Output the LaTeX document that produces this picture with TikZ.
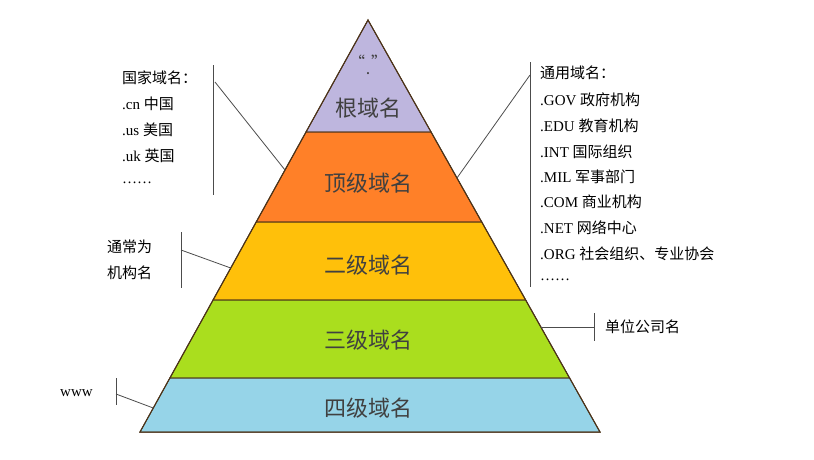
\documentclass[tikz,border=0pt]{standalone}
\usepackage{fontspec}
\setmainfont{Liberation Serif}
\newfontfamily\cjk{Noto Sans CJK SC}
\begin{document}
\begin{tikzpicture}[x=1pt,y=-1pt,
  layer/.style={draw=black!60!brown,line width=1pt},
  big/.style={font=\cjk\fontsize{22}{24}\selectfont,text=black!75},
  small/.style={font=\fontsize{15}{17}\selectfont,anchor=west,inner sep=0pt},
  conn/.style={draw=black!70,line width=0.8pt}]
\useasboundingbox (0,0) rectangle (814,459);
% pyramid geometry: apex (368,20), base (140,432)-(600,432)
\def\lx#1{368-(#1-20)*0.5534}
\def\rx#1{368+(#1-20)*0.5631}
\fill[layer,fill={rgb,255:red,190;green,182;blue,222}] (368,20) -- ({\rx{132}},132) -- ({\lx{132}},132) -- cycle;
\fill[layer,fill={rgb,255:red,255;green,128;blue,40}] ({\lx{132}},132) -- ({\rx{132}},132) -- ({\rx{222}},222) -- ({\lx{222}},222) -- cycle;
\fill[layer,fill={rgb,255:red,255;green,192;blue,10}] ({\lx{222}},222) -- ({\rx{222}},222) -- ({\rx{300}},300) -- ({\lx{300}},300) -- cycle;
\fill[layer,fill={rgb,255:red,170;green,222;blue,30}] ({\lx{300}},300) -- ({\rx{300}},300) -- ({\rx{378}},378) -- ({\lx{378}},378) -- cycle;
\fill[layer,fill={rgb,255:red,150;green,212;blue,232}] ({\lx{378}},378) -- ({\rx{378}},378) -- ({\rx{432}},432) -- ({\lx{432}},432) -- cycle;
\draw[layer] (368,20) -- ({\rx{432}},432) -- ({\lx{432}},432) -- cycle;
\node[big,inner sep=0pt] (q) at (368,62) {\fontsize{16}{16}\selectfont “\hspace{6pt}”};
\node[big,inner sep=0pt] (dot) at (368,74) {\fontsize{16}{16}\selectfont .};
\node[big] (l0) at (368,108) {根域名};
\node[big] (l1) at (368,183) {顶级域名};
\node[big] (l2) at (368,265) {二级域名};
\node[big] (l3) at (368,340) {三级域名};
\node[big] (l4) at (368,408) {四级域名};
% left country block
\node[small] (c0) at (122,78) {\cjk 国家域名：};
\node[small] (c1) at (122,104) {.cn {\cjk 中国}};
\node[small] (c2) at (122,130) {.us {\cjk 美国}};
\node[small] (c3) at (122,156) {.uk {\cjk 英国}};
\node[small] (c4) at (122,183) {……};
\coordinate (cb1) at (213,65); \coordinate (cb2) at (213,195);
\draw[conn] (cb1) -- (cb2);
\coordinate (cs) at (215,82); \coordinate (ce) at ({\lx{170}},170);
\draw[conn] (cs) -- (ce);
% right generic block
\node[small] (g0) at (540,73) {\cjk 通用域名：};
\node[small] (g1) at (540,100) {.GOV {\cjk 政府机构}};
\node[small] (g2) at (540,126) {.EDU {\cjk 教育机构}};
\node[small] (g3) at (540,152) {.INT {\cjk 国际组织}};
\node[small] (g4) at (540,177) {.MIL {\cjk 军事部门}};
\node[small] (g5) at (540,202) {.COM {\cjk 商业机构}};
\node[small] (g6) at (540,228) {.NET {\cjk 网络中心}};
\node[small] (g7) at (540,254) {.ORG {\cjk 社会组织、专业协会}};
\node[small] (g8) at (540,280) {……};
\coordinate (gb1) at (530,62); \coordinate (gb2) at (530,287);
\draw[conn] (gb1) -- (gb2);
\coordinate (gs) at (530,75); \coordinate (ge) at ({\rx{178}},178);
\draw[conn] (gs) -- (ge);
% second level
\node[small] (o1) at (107,247) {\cjk 通常为};
\node[small] (o2) at (107,273) {\cjk 机构名};
\coordinate (ob1) at (181,232); \coordinate (ob2) at (181,288);
\draw[conn] (ob1) -- (ob2);
\coordinate (os) at (181,250); \coordinate (oe) at ({\lx{268}},268);
\draw[conn] (os) -- (oe);
% third level
\node[small] (u) at (605,327) {\cjk 单位公司名};
\coordinate (ub1) at (594,313); \coordinate (ub2) at (594,341);
\draw[conn] (ub1) -- (ub2);
\coordinate (us) at ({\rx{327}},327); \coordinate (ue) at (594,327);
\draw[conn] (us) -- (ue);
% fourth level
\node[small] (w) at (60,393) {www};
\coordinate (wb1) at (116,378); \coordinate (wb2) at (116,405);
\draw[conn] (wb1) -- (wb2);
\coordinate (ws) at (116,394); \coordinate (we) at ({\lx{408}},408);
\draw[conn] (ws) -- (we);
\end{tikzpicture}
\end{document}
